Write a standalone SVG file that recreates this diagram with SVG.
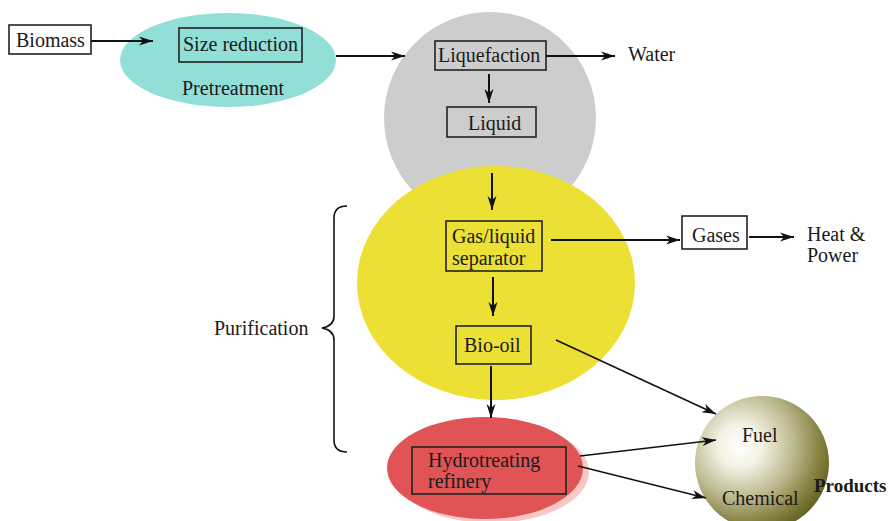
<svg xmlns="http://www.w3.org/2000/svg" width="891" height="521" viewBox="0 0 891 521">
  <defs>
    <marker id="arrow" markerUnits="userSpaceOnUse" markerWidth="15" markerHeight="10" refX="14" refY="5" orient="auto">
      <path d="M0,0.5 L14,5 L0,9.5 L4,5 z" fill="#111"/>
    </marker>
    <radialGradient id="sphere" cx="0.35" cy="0.35" r="0.72" fx="0.33" fy="0.38">
      <stop offset="0" stop-color="#ffffff"/>
      <stop offset="0.22" stop-color="#f3f2e4"/>
      <stop offset="0.55" stop-color="#bdb990"/>
      <stop offset="0.82" stop-color="#85813f"/>
      <stop offset="1" stop-color="#625e22"/>
    </radialGradient>
    <style>
      text { font-family: "Liberation Serif", "Times New Roman", serif; font-size: 20px; fill: #1a1a1a; }
      .bold { font-weight: bold; font-size: 19px; }
      .box { fill: none; stroke: #222; stroke-width: 1.6; }
      .bg-box { fill: #fff; stroke: #222; stroke-width: 1.6; }
      .conn { fill: none; stroke: #111; stroke-width: 2; }
      .thin { fill: none; stroke: #111; stroke-width: 1.6; }
    </style>
  </defs>

  <!-- background regions -->
  <g id="liquefaction-zone">
    <circle cx="490" cy="118" r="106" fill="#cdcdcd"/>
  </g>
  <g id="purification-zone">
    <ellipse cx="496" cy="283" rx="139" ry="117" fill="#ebe033"/>
  </g>
  <g id="pretreatment">
    <ellipse cx="228" cy="60" rx="108" ry="47" fill="#92dfd8"/>
    <rect class="box" x="179" y="28" width="123" height="34"/>
    <text x="183" y="51">Size reduction</text>
    <text x="182" y="95">Pretreatment</text>
  </g>
  <g id="refinery">
    <ellipse cx="491" cy="472" rx="98" ry="51" fill="#f7c8c6"/>
    <ellipse cx="485" cy="468" rx="98" ry="51" fill="#e05456"/>
    <rect class="box" x="412" y="447" width="154" height="47"/>
    <text x="428" y="467">Hydrotreating</text>
    <text x="428" y="488">refinery</text>
  </g>
  <g id="products">
    <circle cx="762" cy="463" r="67" fill="url(#sphere)"/>
    <text x="742" y="442">Fuel</text>
    <text x="722" y="505">Chemical</text>
    <text class="bold" x="814" y="492">Products</text>
  </g>

  <!-- nodes -->
  <g id="biomass">
    <rect class="bg-box" x="9" y="25" width="82" height="29"/>
    <text x="16" y="47">Biomass</text>
  </g>
  <g id="liquefaction">
    <rect class="box" x="435" y="41" width="111" height="29"/>
    <text x="438" y="62">Liquefaction</text>
  </g>
  <g id="water">
    <text x="628" y="61">Water</text>
  </g>
  <g id="liquid">
    <rect class="box" x="447" y="107" width="89" height="30"/>
    <text x="468" y="130">Liquid</text>
  </g>
  <g id="separator">
    <rect class="box" x="446" y="221" width="96" height="50"/>
    <text x="452" y="243">Gas/liquid</text>
    <text x="452" y="265">separator</text>
  </g>
  <g id="bio-oil">
    <rect class="box" x="456" y="326" width="75" height="38"/>
    <text x="464" y="352">Bio-oil</text>
  </g>
  <g id="gases">
    <rect class="bg-box" x="682" y="216" width="65" height="33"/>
    <text x="692" y="242">Gases</text>
  </g>
  <g id="heat-power">
    <text x="807" y="241">Heat &amp;</text>
    <text x="807" y="262">Power</text>
  </g>
  <g id="purification">
    <text x="214" y="335">Purification</text>
    <path class="thin" d="M347,206 Q334,206 334,218 L334,316 Q334,326 322,328 Q334,330 334,340 L334,440 Q334,452 347,452"/>
  </g>

  <!-- connectors -->
  <g id="connectors">
    <line class="conn" x1="91" y1="41" x2="153" y2="41" marker-end="url(#arrow)"/>
    <line class="conn" x1="336" y1="56" x2="405" y2="56" marker-end="url(#arrow)"/>
    <line class="conn" x1="546" y1="56" x2="615" y2="56" marker-end="url(#arrow)"/>
    <line class="conn" x1="489" y1="74" x2="489" y2="103" marker-end="url(#arrow)"/>
    <line class="conn" x1="492" y1="173" x2="492" y2="210" marker-end="url(#arrow)"/>
    <line class="conn" x1="493" y1="277" x2="493" y2="316" marker-end="url(#arrow)"/>
    <line class="conn" x1="491" y1="366" x2="491" y2="418" marker-end="url(#arrow)"/>
    <line class="conn" x1="551" y1="240" x2="680" y2="240" marker-end="url(#arrow)"/>
    <line class="conn" x1="749" y1="237" x2="794" y2="237" marker-end="url(#arrow)"/>
    <line class="thin" x1="556" y1="340" x2="716" y2="414" marker-end="url(#arrow)"/>
    <line class="thin" x1="580" y1="456" x2="716" y2="440" marker-end="url(#arrow)"/>
    <line class="thin" x1="578" y1="466" x2="706" y2="498" marker-end="url(#arrow)"/>
  </g>
</svg>
